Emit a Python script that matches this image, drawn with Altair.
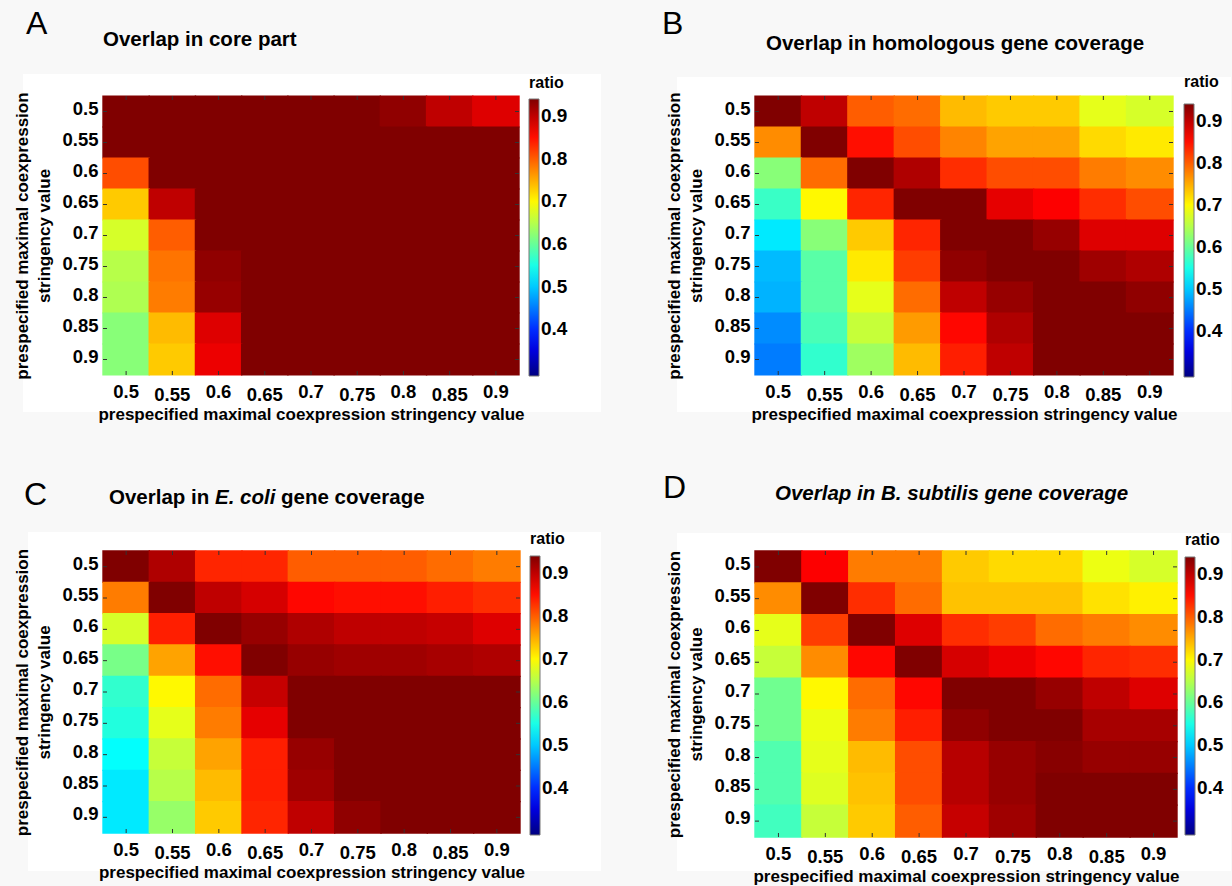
import altair as alt
import pandas as pd

# ---------------- data ----------------
stringency = ["0.5", "0.55", "0.6", "0.65", "0.7", "0.75", "0.8", "0.85", "0.9"]

# rows: y stringency 0.5 -> 0.9 ; columns: x stringency 0.5 -> 0.9
core_part = [
    [0.94, 0.94, 0.94, 0.94, 0.94, 0.94, 0.93, 0.90, 0.88],
    [0.94, 0.94, 0.94, 0.94, 0.94, 0.94, 0.94, 0.94, 0.94],
    [0.81, 0.94, 0.94, 0.94, 0.94, 0.94, 0.94, 0.94, 0.94],
    [0.73, 0.90, 0.94, 0.94, 0.94, 0.94, 0.94, 0.94, 0.94],
    [0.67, 0.80, 0.94, 0.94, 0.94, 0.94, 0.94, 0.94, 0.94],
    [0.65, 0.785, 0.93, 0.94, 0.94, 0.94, 0.94, 0.94, 0.94],
    [0.645, 0.78, 0.925, 0.94, 0.94, 0.94, 0.94, 0.94, 0.94],
    [0.62, 0.74, 0.88, 0.94, 0.94, 0.94, 0.94, 0.94, 0.94],
    [0.62, 0.73, 0.87, 0.94, 0.94, 0.94, 0.94, 0.94, 0.94],
]
homologous = [
    [0.94, 0.90, 0.80, 0.79, 0.74, 0.73, 0.73, 0.68, 0.67],
    [0.77, 0.94, 0.85, 0.81, 0.775, 0.755, 0.755, 0.72, 0.71],
    [0.62, 0.79, 0.94, 0.91, 0.83, 0.81, 0.81, 0.78, 0.77],
    [0.57, 0.70, 0.835, 0.94, 0.94, 0.875, 0.86, 0.83, 0.81],
    [0.52, 0.62, 0.73, 0.835, 0.94, 0.94, 0.925, 0.88, 0.88],
    [0.49, 0.59, 0.71, 0.82, 0.93, 0.94, 0.94, 0.92, 0.91],
    [0.485, 0.59, 0.68, 0.79, 0.90, 0.925, 0.94, 0.94, 0.93],
    [0.46, 0.58, 0.66, 0.76, 0.855, 0.91, 0.94, 0.94, 0.94],
    [0.45, 0.565, 0.635, 0.74, 0.84, 0.90, 0.94, 0.94, 0.94],
]
ecoli = [
    [0.94, 0.91, 0.835, 0.835, 0.80, 0.80, 0.80, 0.79, 0.78],
    [0.78, 0.94, 0.90, 0.885, 0.855, 0.85, 0.85, 0.84, 0.83],
    [0.67, 0.84, 0.94, 0.925, 0.91, 0.90, 0.90, 0.895, 0.88],
    [0.61, 0.755, 0.85, 0.94, 0.925, 0.92, 0.92, 0.915, 0.91],
    [0.565, 0.70, 0.79, 0.895, 0.94, 0.94, 0.94, 0.94, 0.94],
    [0.555, 0.68, 0.78, 0.875, 0.94, 0.94, 0.94, 0.94, 0.94],
    [0.535, 0.66, 0.755, 0.84, 0.925, 0.94, 0.94, 0.94, 0.94],
    [0.52, 0.65, 0.74, 0.84, 0.92, 0.94, 0.94, 0.94, 0.94],
    [0.52, 0.63, 0.73, 0.835, 0.90, 0.93, 0.94, 0.94, 0.94],
]
bsubtilis = [
    [0.94, 0.86, 0.78, 0.78, 0.73, 0.72, 0.72, 0.685, 0.67],
    [0.77, 0.94, 0.83, 0.79, 0.735, 0.735, 0.735, 0.715, 0.705],
    [0.68, 0.82, 0.94, 0.88, 0.83, 0.82, 0.79, 0.78, 0.77],
    [0.66, 0.77, 0.855, 0.94, 0.885, 0.87, 0.855, 0.835, 0.83],
    [0.605, 0.70, 0.79, 0.855, 0.94, 0.94, 0.925, 0.90, 0.88],
    [0.605, 0.685, 0.78, 0.84, 0.93, 0.94, 0.94, 0.915, 0.915],
    [0.585, 0.68, 0.74, 0.81, 0.905, 0.925, 0.935, 0.925, 0.925],
    [0.585, 0.675, 0.735, 0.81, 0.905, 0.925, 0.94, 0.94, 0.94],
    [0.575, 0.66, 0.73, 0.80, 0.895, 0.92, 0.94, 0.94, 0.94],
]

legend_ticks = [0.4, 0.5, 0.6, 0.7, 0.8, 0.9]
color_min, color_max = 0.29, 0.94
jet_colors = ["#000080", "#0000ff", "#0080ff", "#00ffff", "#80ff80",
              "#ffff00", "#ff8000", "#ff0000", "#800000"]
jet_domain = [color_min + i * (color_max - color_min) / 8 for i in range(9)]

FONT = "Liberation Sans"
X_TITLE = "prespecified maximal coexpression stringency value"
Y_TITLE = ["prespecified maximal coexpression", "stringency value"]
STAGGER = "indexof(['0.55','0.65','0.75','0.85'], datum.label) >= 0"
TICK_COLOR = "#333333"


def to_df(matrix):
    rows = []
    for i, ys in enumerate(stringency):
        for j, xs in enumerate(stringency):
            rows.append({"xs": xs, "ys": ys, "ratio": matrix[i][j]})
    return pd.DataFrame(rows)


def text(txt, x, y, size, weight="bold", style="normal", baseline="alphabetic"):
    return alt.Chart(pd.DataFrame({"t": [txt]})).mark_text(
        align="left", baseline=baseline, font=FONT, fontSize=size,
        fontWeight=weight, fontStyle=style, color="black"
    ).encode(text="t:N", x=alt.value(x), y=alt.value(y))


def panel(matrix, w, h, letter, letter_xy, title_parts, title_xy, white, leg):
    df = to_df(matrix)
    jet = alt.Scale(domain=jet_domain, range=jet_colors, interpolate="rgb", clamp=True)
    heat = alt.Chart(df).mark_rect(
        width={"band": 1.03}, height={"band": 1.04}
    ).encode(
        x=alt.X("xs:O", sort=stringency, title=X_TITLE,
                axis=alt.Axis(labelAngle=0, labelOverlap=False, labelPadding=7,
                              labelLineHeight=24.5,
                              labelBaseline={"condition": {"test": STAGGER, "value": "line-top"},
                                             "value": "top"},
                              titlePadding=3)),
        y=alt.Y("ys:O", sort=stringency, title=Y_TITLE,
                axis=alt.Axis(labelPadding=5, titlePadding=8, labelOffset=-3,
                              labelOverlap=False)),
        color=alt.Color(
            "ratio:Q", scale=jet,
            legend=alt.Legend(title="ratio", orient="none", direction="vertical",
                              legendX=w + leg[0], legendY=leg[1], titlePadding=leg[2],
                              gradientLength=leg[3], values=legend_ticks, format=".1f"),
        ),
    ).properties(width=w, height=h)

    # small inward tick marks on the four sides of the box
    xt = pd.DataFrame({"xs": stringency})
    yt = pd.DataFrame({"ys": stringency})
    ticks = [
        alt.Chart(xt).mark_rule(color=TICK_COLOR, strokeWidth=1).encode(
            x=alt.X("xs:O", sort=stringency), y=alt.value(h), y2=alt.value(h - 4)),
        alt.Chart(xt).mark_rule(color=TICK_COLOR, strokeWidth=1).encode(
            x=alt.X("xs:O", sort=stringency), y=alt.value(0), y2=alt.value(4)),
        alt.Chart(yt).mark_rule(color=TICK_COLOR, strokeWidth=1).encode(
            y=alt.Y("ys:O", sort=stringency), x=alt.value(0), x2=alt.value(4)),
        alt.Chart(yt).mark_rule(color=TICK_COLOR, strokeWidth=1).encode(
            y=alt.Y("ys:O", sort=stringency), x=alt.value(w), x2=alt.value(w - 4)),
    ]

    bg = alt.Chart(pd.DataFrame({"a": [0]})).mark_rect(color="white").encode(
        x=alt.value(white[0]), x2=alt.value(white[1]),
        y=alt.value(white[2]), y2=alt.value(white[3]))

    layers = [bg, heat] + ticks + [
        text(letter, letter_xy[0], letter_xy[1], 32, weight="normal", baseline="middle")]
    x = title_xy[0]
    for part, style, width in title_parts:
        layers.append(text(part, x, title_xy[1], 20.5, style=style))
        x += width
    return alt.layer(*layers)


pA = panel(core_part, 416, 279, "A", (-77, -72),
           [("Overlap in core part", "normal", 0)], (0, -50),
           (-80, 498, -22, 316), (10, -21, 8, 277))
pB = panel(homologous, 418, 279, "B", (-93, -72),
           [("Overlap in homologous gene coverage", "normal", 0)], (11, -46),
           (-78, 476, -19, 316), (11, -22, 14, 273))
pC = panel(ecoli, 417, 282, "C", (-79, -56),
           [("Overlap in", "normal", 106), ("E. coli", "italic", 66), ("gene coverage", "normal", 0)],
           (6, -47), (-75, 498, -19, 320), (10, -20, 9, 279))
pD = panel(bsubtilis, 422, 286, "D", (-92, -63),
           [("Overlap in B. subtilis gene coverage", "italic", 0)], (20, -51),
           (-78, 476, -18, 320), (8, -19, 9, 278))

chart = alt.concat(pA, pB, pC, pD, columns=2, spacing={"row": 48, "column": 59}).resolve_scale(
    color="independent"
).configure(
    background="#f8f8f8",
    padding={"left": 13, "top": 7, "right": 0, "bottom": 12},
).configure_view(
    stroke="#888888", strokeWidth=1
).configure_axis(
    labelFont=FONT, labelFontSize=18.5, labelFontWeight="bold", labelColor="black",
    titleFont=FONT, titleFontSize=17, titleFontWeight="bold", titleColor="black",
    titleLineHeight=22, ticks=False, domain=False, grid=False,
).configure_legend(
    titleFont=FONT, titleFontSize=16, titleFontWeight="bold", titleColor="black",
    labelFont=FONT, labelFontSize=19, labelFontWeight="bold", labelColor="black",
    labelOffset=3, gradientThickness=10, gradientStrokeColor="#777777", gradientStrokeWidth=1,
)

chart.save("out.html", embed_options={"renderer": "svg", "actions": False})
